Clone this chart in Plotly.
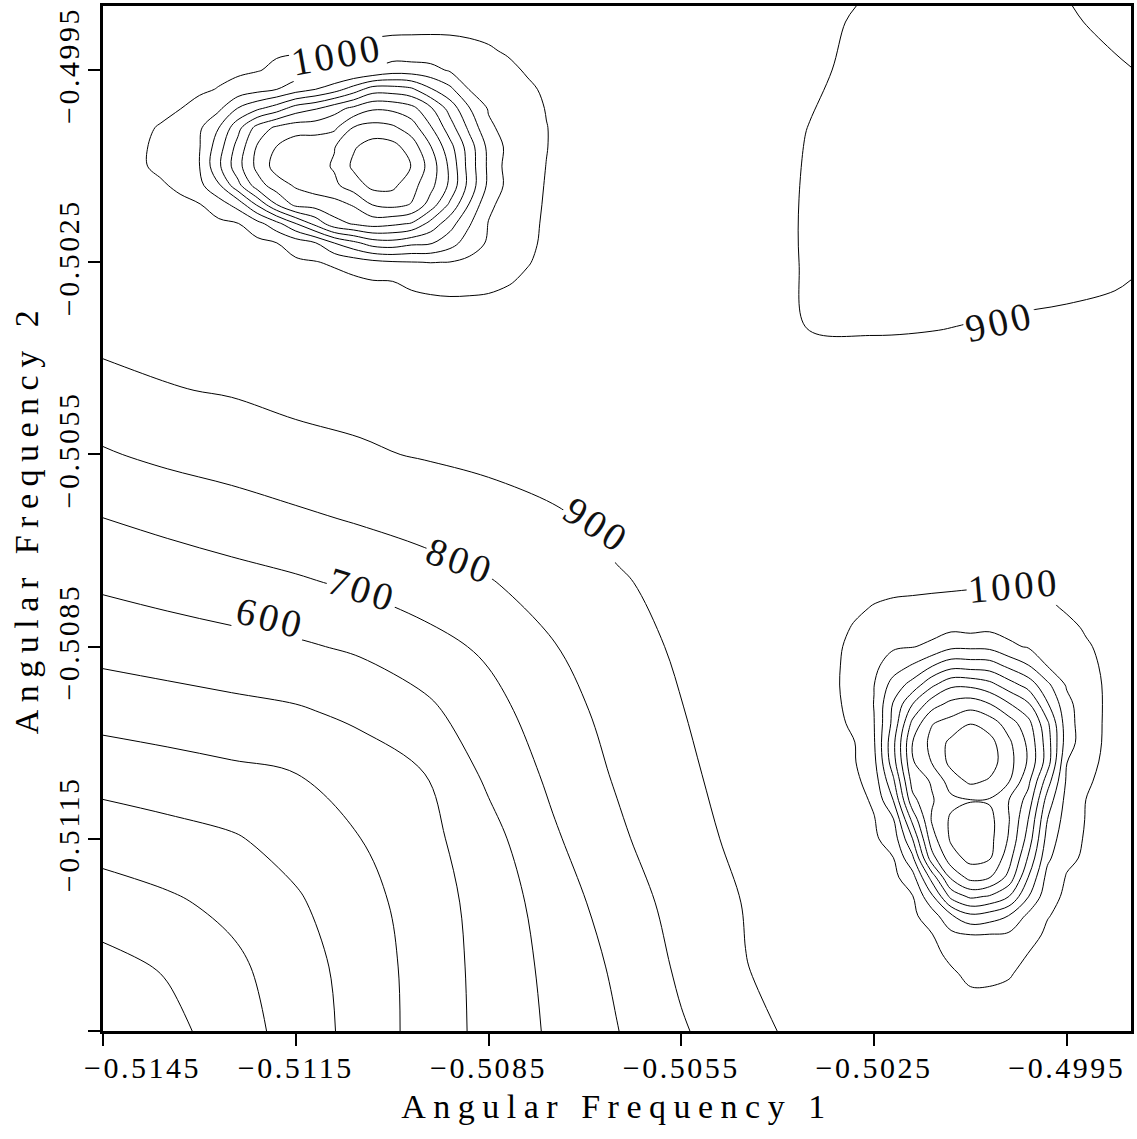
import plotly.graph_objects as go

# ---------------------------------------------------------------------------
# Broad surface (both axes span -0.5145 .. -0.4985); the last cell is split
# in half so the small dip in the upper-right corner is resolved.
# rows: increasing Angular Frequency 2, columns: increasing Angular Frequency 1
# ---------------------------------------------------------------------------
bg_x = [round(-0.5145 + 0.001 * i, 4) for i in range(16)] + [-0.49875, -0.4985]
bg_y = [round(-0.5145 + 0.001 * j, 4) for j in range(16)] + [-0.49875, -0.4985]
bg_z = [
    [0, 67, 152, 240, 337, 438, 531, 615, 697, 790, 864, 937, 945, 948, 950, 950, 948, 945],
    [67, 110, 177, 254, 343, 439, 535, 625, 716, 817, 898, 935, 940, 945, 950, 950, 948, 945],
    [153, 184, 225, 287, 362, 448, 542, 644, 750, 834, 905, 935, 942, 950, 955, 955, 953, 950],
    [241, 265, 290, 336, 399, 468, 565, 686, 781, 870, 920, 938, 945, 955, 960, 960, 958, 955],
    [337, 357, 378, 398, 447, 498, 619, 721, 811, 888, 925, 942, 950, 955, 960, 960, 958, 955],
    [439, 456, 473, 490, 523, 576, 664, 756, 834, 898, 925, 945, 950, 955, 960, 960, 958, 955],
    [532, 550, 569, 587, 615, 663, 718, 795, 857, 915, 930, 945, 950, 955, 955, 955, 953, 950],
    [616, 640, 663, 687, 717, 755, 794, 840, 893, 920, 935, 945, 950, 950, 950, 950, 948, 945],
    [699, 727, 755, 782, 810, 837, 864, 891, 918, 935, 940, 945, 945, 945, 945, 945, 943, 940],
    [791, 821, 842, 870, 890, 906, 920, 930, 938, 940, 940, 940, 940, 940, 938, 938, 937, 935],
    [864, 895, 907, 925, 928, 935, 940, 942, 942, 940, 925, 925, 930, 930, 928, 930, 932, 935],
    [937, 935, 935, 938, 942, 945, 945, 945, 945, 940, 922, 898, 895, 898, 905, 908, 915, 921],
    [945, 940, 942, 945, 950, 950, 950, 950, 945, 940, 925, 895, 878, 880, 877, 885, 888, 892],
    [948, 945, 950, 955, 955, 955, 955, 950, 945, 940, 925, 895, 880, 862, 860, 862, 862, 862],
    [950, 950, 955, 960, 960, 960, 955, 950, 945, 938, 928, 898, 877, 860, 845, 840, 836, 832],
    [950, 950, 955, 960, 960, 960, 955, 950, 945, 938, 930, 908, 885, 862, 840, 815, 808, 801],
    [948, 948, 953, 958, 958, 958, 953, 948, 943, 937, 933, 915, 888, 862, 836, 808, 785, 785],
    [945, 945, 950, 955, 955, 955, 950, 945, 940, 935, 935, 921, 892, 862, 832, 802, 785, 770],
]

# ---------------------------------------------------------------------------
# Upper-left peak, finer 0.0003 grid
# ---------------------------------------------------------------------------
tl_x = [round(-0.5145 + 0.0003 * k, 4) for k in range(1, 25)]
tl_y = [round(-0.5145 + 0.0003 * m, 4) for m in range(37, 54)]
tl_z = [
    [930, 930, 930, 930, 930, 930, 930, 930, 930, 932, 935, 938, 942, 946, 950, 955, 958, 960, 960, 958, 955, 950, 945, 940],
    [930, 930, 930, 930, 930, 931, 932, 934, 936, 940, 945, 952, 960, 968, 975, 982, 987, 990, 990, 988, 980, 968, 958, 950],
    [930, 930, 930, 930, 930, 930, 933, 936, 940, 945, 950, 960, 978, 995, 999, 1015, 1028, 1036, 1029, 1020, 1006, 988, 972, 958],
    [930, 930, 932, 935, 938, 942, 948, 955, 965, 985, 994, 1016, 1047, 1074, 1090, 1097, 1102, 1098, 1078, 1045, 1025, 1005, 982, 963],
    [932, 935, 938, 942, 948, 955, 965, 975, 998, 1044, 1092, 1200, 1272, 1347, 1362, 1323, 1310, 1241, 1150, 1088, 1054, 1018, 985, 965],
    [935, 940, 945, 955, 965, 980, 995, 1062, 1163, 1294, 1426, 1565, 1608, 1640, 1620, 1590, 1464, 1340, 1210, 1096, 1060, 1023, 988, 968],
    [945, 950, 962, 975, 995, 1052, 1137, 1313, 1498, 1628, 1641, 1663, 1710, 1805, 1830, 1795, 1657, 1480, 1295, 1118, 1067, 1027, 992, 972],
    [945, 964, 987, 1021, 1074, 1187, 1369, 1552, 1654, 1712, 1750, 1780, 1850, 1930, 1925, 1838, 1731, 1580, 1365, 1178, 1076, 1033, 995, 975],
    [966, 990, 1022, 1060, 1098, 1280, 1464, 1628, 1740, 1775, 1765, 1810, 1920, 1960, 1955, 1898, 1758, 1578, 1358, 1180, 1065, 1030, 999, 977],
    [966, 990, 1021, 1057, 1094, 1254, 1437, 1610, 1702, 1760, 1765, 1795, 1889, 1945, 1935, 1855, 1705, 1535, 1350, 1174, 1078, 1039, 1002, 977],
    [958, 982, 1008, 1045, 1084, 1198, 1368, 1537, 1620, 1655, 1659, 1680, 1806, 1839, 1820, 1752, 1610, 1447, 1278, 1117, 1070, 1035, 1002, 978],
    [945, 955, 975, 998, 1038, 1079, 1205, 1282, 1350, 1448, 1490, 1562, 1626, 1688, 1680, 1635, 1517, 1362, 1206, 1092, 1061, 1028, 997, 975],
    [940, 945, 952, 962, 982, 1005, 1036, 1067, 1098, 1153, 1198, 1256, 1346, 1450, 1448, 1419, 1310, 1223, 1097, 1073, 1044, 1014, 988, 970],
    [935, 940, 946, 954, 962, 972, 982, 994, 1018, 1036, 1054, 1067, 1085, 1102, 1147, 1144, 1130, 1089, 1064, 1043, 1018, 992, 975, 960],
    [932, 936, 942, 948, 955, 962, 970, 980, 988, 992, 996, 999, 1010, 1027, 1042, 1040, 1040, 1036, 1021, 1008, 992, 975, 965, 955],
    [930, 932, 935, 938, 942, 946, 950, 955, 962, 968, 972, 977, 982, 986, 990, 992, 993, 992, 989, 984, 975, 965, 955, 945],
    [930, 930, 930, 935, 935, 940, 940, 945, 950, 955, 960, 962, 965, 967, 968, 970, 970, 968, 965, 960, 955, 950, 945, 940],
]

# ---------------------------------------------------------------------------
# Lower-right peak, finer 0.0003 grid
# ---------------------------------------------------------------------------
br_x = [round(-0.5145 + 0.0003 * k, 4) for k in range(37, 54)]
br_y = [round(-0.5145 + 0.0003 * m, 4) for m in range(1, 25)]
br_z = [
    [930, 930, 930, 930, 932, 935, 945, 945, 966, 966, 958, 945, 940, 935, 932, 930, 930],
    [930, 930, 930, 930, 935, 940, 950, 964, 990, 990, 982, 955, 945, 940, 936, 932, 930],
    [930, 930, 930, 932, 938, 945, 962, 987, 1022, 1021, 1008, 975, 952, 946, 942, 935, 930],
    [930, 930, 930, 935, 942, 955, 975, 1021, 1060, 1057, 1045, 998, 962, 954, 948, 938, 935],
    [930, 930, 930, 938, 948, 965, 995, 1074, 1098, 1094, 1084, 1038, 982, 962, 955, 942, 935],
    [930, 931, 930, 942, 955, 980, 1052, 1187, 1280, 1254, 1198, 1079, 1005, 972, 962, 946, 940],
    [930, 932, 933, 948, 965, 995, 1180, 1430, 1520, 1490, 1400, 1205, 1036, 982, 970, 950, 940],
    [930, 934, 936, 955, 975, 1062, 1340, 1620, 1735, 1705, 1570, 1300, 1067, 994, 980, 955, 945],
    [930, 936, 940, 965, 998, 1180, 1560, 1760, 1830, 1810, 1640, 1390, 1120, 1018, 988, 962, 950],
    [932, 940, 945, 985, 1044, 1300, 1660, 1815, 1855, 1830, 1690, 1460, 1160, 1036, 992, 968, 955],
    [935, 945, 950, 994, 1092, 1430, 1710, 1815, 1845, 1830, 1705, 1500, 1200, 1054, 996, 972, 960],
    [938, 952, 960, 1016, 1200, 1570, 1690, 1775, 1795, 1790, 1700, 1562, 1256, 1067, 999, 977, 962],
    [942, 960, 978, 1047, 1280, 1640, 1710, 1850, 1920, 1889, 1806, 1626, 1346, 1085, 1010, 982, 965],
    [946, 968, 995, 1074, 1360, 1690, 1805, 1930, 1960, 1945, 1839, 1688, 1450, 1102, 1027, 986, 967],
    [950, 975, 999, 1090, 1375, 1700, 1830, 1925, 1955, 1935, 1820, 1680, 1448, 1147, 1042, 990, 968],
    [955, 982, 1015, 1097, 1330, 1630, 1795, 1838, 1898, 1855, 1752, 1635, 1419, 1144, 1040, 992, 970],
    [958, 987, 1028, 1102, 1310, 1500, 1657, 1731, 1758, 1705, 1610, 1517, 1310, 1130, 1040, 993, 970],
    [960, 990, 1036, 1098, 1241, 1340, 1480, 1580, 1578, 1535, 1447, 1362, 1223, 1089, 1036, 992, 968],
    [960, 990, 1029, 1078, 1150, 1210, 1295, 1365, 1358, 1350, 1278, 1206, 1097, 1064, 1021, 989, 965],
    [958, 988, 1020, 1045, 1088, 1096, 1118, 1178, 1180, 1174, 1117, 1092, 1073, 1043, 1008, 984, 960],
    [955, 980, 1006, 1025, 1054, 1060, 1067, 1076, 1065, 1078, 1070, 1061, 1044, 1018, 992, 975, 955],
    [950, 968, 988, 1005, 1018, 1023, 1027, 1033, 1030, 1039, 1035, 1028, 1014, 992, 975, 965, 950],
    [945, 958, 972, 982, 985, 988, 992, 995, 999, 1002, 1002, 997, 988, 975, 965, 955, 945],
    [940, 950, 958, 963, 965, 968, 972, 975, 977, 977, 978, 975, 970, 960, 955, 945, 940],
]

# axis ticks
x_ticks = [-0.5145, -0.5115, -0.5085, -0.5055, -0.5025, -0.4995]
x_tick_labels = ["\u22120.5145", "\u22120.5115", "\u22120.5085", "\u22120.5055", "\u22120.5025", "\u22120.4995"]
y_ticks = [-0.5145, -0.5115, -0.5085, -0.5055, -0.5025, -0.4995]
y_tick_labels = ["", "\u22120.5115", "\u22120.5085", "\u22120.5055", "\u22120.5025", "\u22120.4995"]

# contour labels: level, anchor (x, y), angle
label_levels = [1000, 1000, 900, 900, 800, 700, 600]
label_x = [-0.51086, -0.50032, -0.50054, -0.50682, -0.50894, -0.51046, -0.51190]
label_y = [-0.49925, -0.50755, -0.50342, -0.50660, -0.50715, -0.50761, -0.50805]
label_angle = [-10, -5, -13, 33, 20, 17, 14]

SERIF = "Liberation Serif"


def spaced(text, px):
    """Wrap text so it is drawn with extra tracking between letters."""
    return '<span style="letter-spacing:%.1fpx">%s</span>' % (px, text)


line_style = dict(color="black", width=1, smoothing=1.0)

fig = go.Figure()
fig.add_trace(go.Contour(
    x=bg_x, y=bg_y, z=bg_z,
    contours=dict(coloring="none", start=100, end=900, size=100),
    line=line_style, showscale=False, hoverinfo="skip",
))
fig.add_trace(go.Contour(
    x=tl_x, y=tl_y, z=tl_z,
    contours=dict(coloring="none", start=1000, end=1900, size=100),
    line=line_style, showscale=False, hoverinfo="skip",
))
fig.add_trace(go.Contour(
    x=br_x, y=br_y, z=br_z,
    contours=dict(coloring="none", start=1000, end=1900, size=100),
    line=line_style, showscale=False, hoverinfo="skip",
))

for lev, lx, ly, ang in zip(label_levels, label_x, label_y, label_angle):
    fig.add_annotation(
        x=lx, y=ly, xref="x", yref="y", text=spaced(str(lev), 3.5), showarrow=False,
        textangle=ang, bgcolor="white", borderpad=1,
        font=dict(family=SERIF, size=39, color="#111111"),
    )

# first x tick label sits to the right of its tick
x_tick_text = [spaced(t, 2.5) if i > 0 else "" for i, t in enumerate(x_tick_labels)]
fig.add_annotation(
    x=-0.51388, y=0, xref="x", yref="paper", yanchor="top", yshift=-18,
    text=spaced(x_tick_labels[0], 2.5), showarrow=False,
    font=dict(family=SERIF, size=30, color="black"),
)

axis_common = dict(
    range=[-0.5145, -0.4985], ticks="outside", ticklen=12, tickwidth=1.5,
    tickcolor="black", showline=True, linewidth=3, linecolor="black",
    mirror=True, showgrid=False, zeroline=False,
    tickfont=dict(family=SERIF, size=30, color="black"),
)

fig.update_layout(
    width=1137, height=1139,
    margin=dict(l=103, r=5, t=3, b=108),
    plot_bgcolor="white", paper_bgcolor="white",
    showlegend=False,
    xaxis=dict(
        axis_common, tickvals=x_ticks, ticktext=x_tick_text, ticklabelstandoff=-4,
        title=dict(text=spaced("Angular Frequency 1", 7.5),
                   font=dict(family=SERIF, size=34, color="black"), standoff=12),
    ),
    yaxis=dict(
        axis_common, tickvals=y_ticks, ticktext=[spaced(t, 2.5) for t in y_tick_labels],
        tickangle=-90, ticklabelstandoff=-3,
        title=dict(text=spaced("Angular Frequency 2", 7.5),
                   font=dict(family=SERIF, size=34, color="black"), standoff=4),
    ),
)

fig.write_html("out.html")
